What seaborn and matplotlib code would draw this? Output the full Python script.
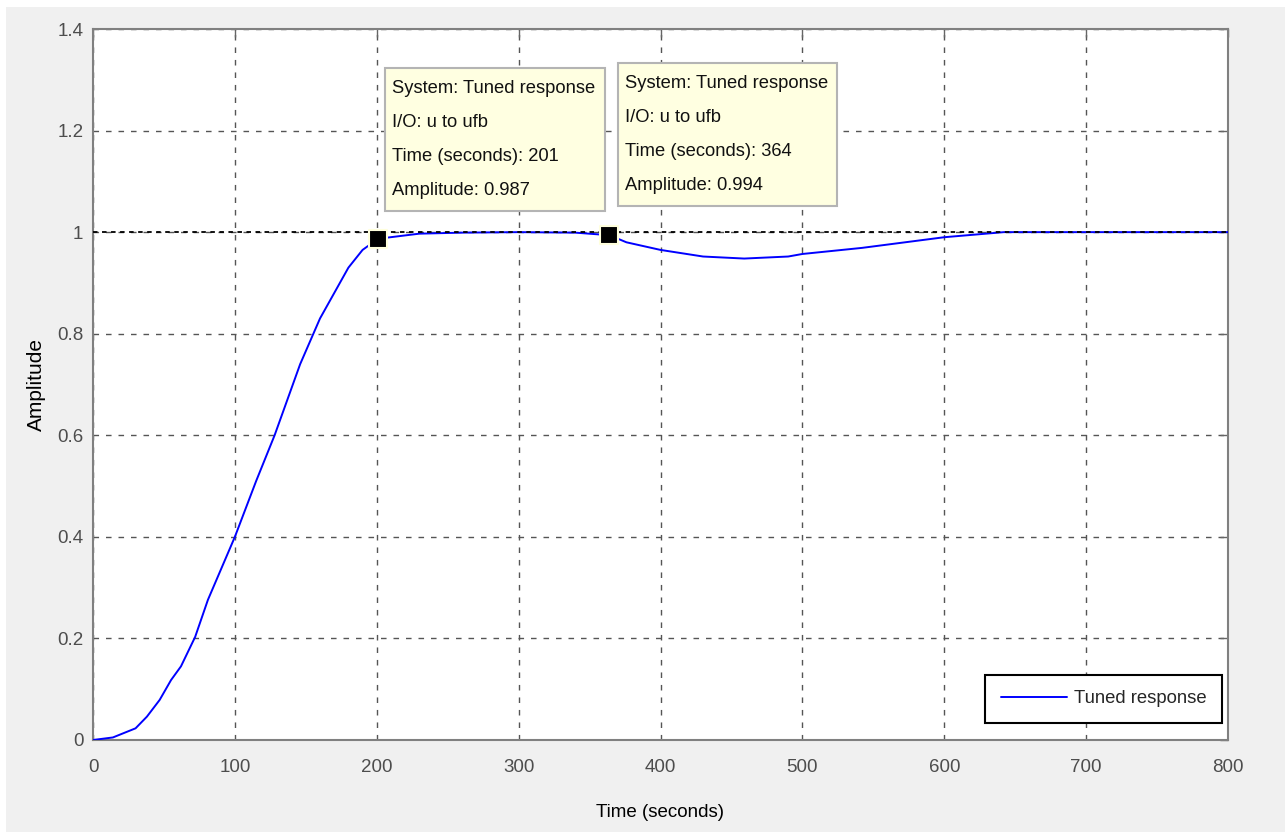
import numpy as np
import pandas as pd
import seaborn as sns
import matplotlib.pyplot as plt
from matplotlib.patches import Rectangle

# step response
time_s = [0, 14, 30, 38, 47, 55, 62, 72, 81, 100, 115, 128, 146, 160, 180, 190, 201,
          230, 260, 300, 340, 364, 376, 400, 430, 459, 490, 500, 542, 600, 642, 700, 800]
amplitude = [0, 0.005, 0.023, 0.046, 0.079, 0.118, 0.145, 0.203, 0.276, 0.40, 0.51, 0.60,
             0.74, 0.83, 0.93, 0.965, 0.987, 0.997, 0.999, 1.0, 0.999, 0.994, 0.98, 0.965,
             0.952, 0.948, 0.952, 0.957, 0.969, 0.99, 1.0, 1.0, 1.0]

tips_time = [201, 364]
tips_amp = [0.987, 0.994]
system_name = "Tuned response"
io_name = "u to ufb"

x_ticks = [0, 100, 200, 300, 400, 500, 600, 700, 800]
y_ticks = [0, 0.2, 0.4, 0.6, 0.8, 1, 1.2, 1.4]
y_tick_labels = ["0", "0.2", "0.4", "0.6", "0.8", "1", "1.2", "1.4"]

sns.set_theme(style="white")
plt.rcParams['font.family'] = ['Liberation Sans', 'DejaVu Sans']

df = pd.DataFrame({"Time (seconds)": time_s, "Amplitude": amplitude})

fig = plt.figure(figsize=(12.85, 8.32), dpi=100)
fig.patch.set_facecolor("white")
fig.patches.append(Rectangle((6 / 1285, 0), 1, 1 - 7 / 832, transform=fig.transFigure,
                             facecolor="#f0f0f0", edgecolor="none", zorder=-10))
ax = fig.add_axes([93 / 1285, 1 - 740 / 832, (1228 - 93) / 1285, (740 - 29) / 832])
ax.set_facecolor("white")

sns.lineplot(data=df, x="Time (seconds)", y="Amplitude", ax=ax, color="#0000ff",
             linewidth=1.4, label=system_name, zorder=3)
ax.axhline(1.0, color="black", linestyle=(0, (2.5, 2.5)), linewidth=1.3, zorder=4)

ax.set_xlim(0, 800)
ax.set_ylim(0, 1.4)
ax.set_xticks(x_ticks)
ax.set_yticks(y_ticks)
ax.set_yticklabels(y_tick_labels)
ax.grid(True, color="#555555", linestyle=(0, (4, 5)), linewidth=1.0)
ax.tick_params(direction="in", length=6, width=1, color="#666666",
               top=True, right=True, labelsize=13.5, labelcolor="#4d4d4d")
ax.tick_params(axis="x", pad=14)
ax.tick_params(axis="y", pad=7)
for sp in ax.spines.values():
    sp.set_color("#808080")
    sp.set_linewidth(1.5)
ax.set_xlabel("Time (seconds)", fontsize=13.5, color="black", labelpad=20)
ax.set_ylabel("Amplitude", fontsize=15, color="black", labelpad=8)

# data tips
ax.scatter(tips_time, tips_amp, marker="s", s=170, color="black",
           edgecolor="#ffffdd", linewidth=1.5, zorder=6)
tip_texts = []
for t, a, dx, ytop in zip(tips_time, tips_amp, [10, 11], [1.2995, 1.309]):
    txt = (f"System: {system_name}\nI/O: {io_name}\n"
           f"Time (seconds): {t}\nAmplitude: {a}")
    tip_texts.append(ax.text(t + dx, ytop, txt, fontsize=13.2, va="top", ha="left",
                             linespacing=2.3, color="#111111", zorder=8))

leg = ax.legend(loc="lower right", fontsize=13.3, frameon=True, fancybox=False,
                edgecolor="black", framealpha=1, borderpad=0.85, handlelength=3.6,
                handletextpad=0.35, borderaxespad=0,
                bbox_to_anchor=(0.9947, 0.0239))
leg.get_frame().set_linewidth(1.5)

# boxes behind the data tip texts, padded like the MATLAB data tips
fig.canvas.draw()
for tx in tip_texts:
    bb = tx.get_window_extent()
    fig.patches.append(Rectangle((bb.x0 - 7, bb.y0 - 12), bb.width + 16, bb.height + 24,
                                 transform=None, facecolor="#ffffe1", edgecolor="#b4b4b4",
                                 linewidth=1.5, zorder=7))
for tx in tip_texts:
    tx.remove()
    fig.texts.append(tx)
    tx.set_figure(fig)
    tx.set_transform(ax.transData)
    tx.set_zorder(9)

fig.savefig("out.png", dpi=100, facecolor=fig.get_facecolor())
